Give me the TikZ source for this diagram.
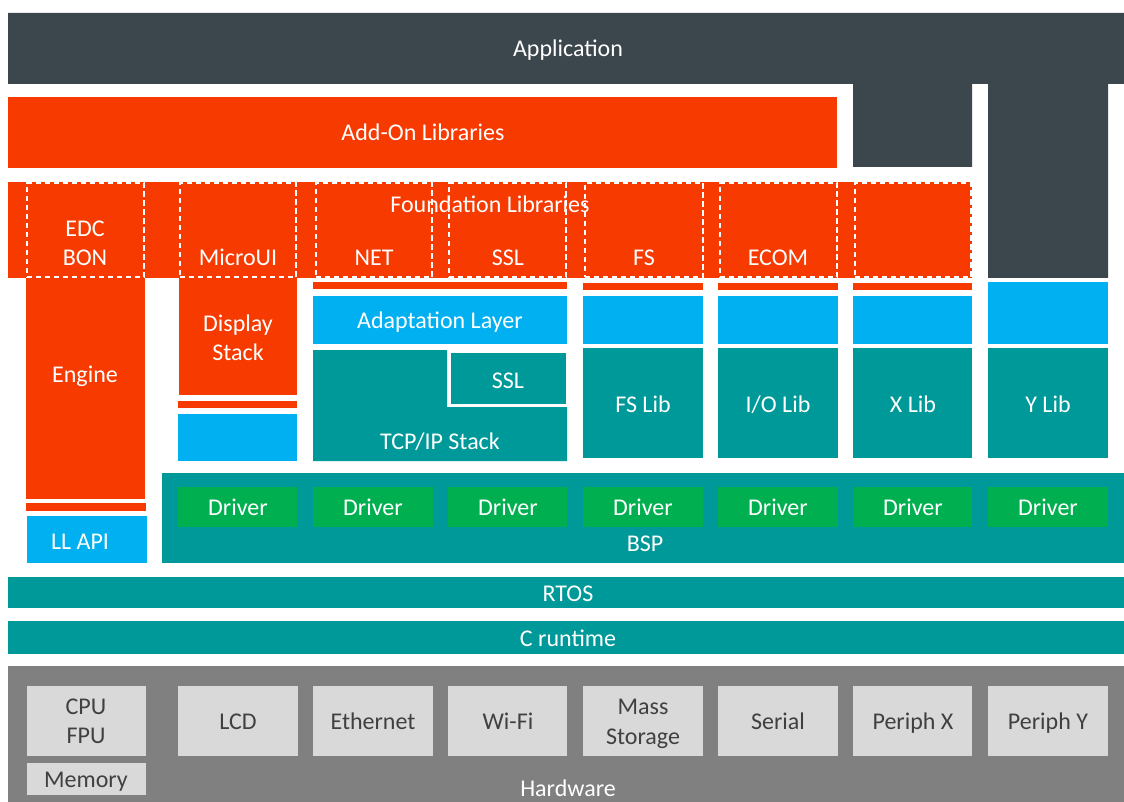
\documentclass[tikz,border=0pt]{standalone}
\usepackage{fontspec}
\setmainfont{Carlito}
\definecolor{appdark}{HTML}{3C464D}
\definecolor{libred}{HTML}{F63A00}
\definecolor{adaptblue}{HTML}{00B0F0}
\definecolor{stackteal}{HTML}{009999}
\definecolor{drvgreen}{HTML}{00B050}
\definecolor{hwgray}{HTML}{808080}
\definecolor{hwlight}{HTML}{D9D9D9}
\definecolor{hwtext}{HTML}{404040}
% block given by its pixel corners (x1,y1) and (x2,y2)
\newcommand\blk[6][]{\node[blkbase,#1,minimum width={(#5)-(#3)},minimum height={(#6)-(#4)}] (#2) at ({((#3)+(#5))/2},{((#4)+(#6))/2}) {};}
\begin{document}
\begin{tikzpicture}[x=1pt,y=-1pt,
  blkbase/.style={inner sep=0pt,outer sep=0pt,draw=none},
  red/.style={fill=libred},
  blue/.style={fill=adaptblue},
  teal/.style={fill=stackteal},
  green/.style={fill=drvgreen},
  light/.style={fill=hwlight},
  dashbox/.style={draw=white,line width=1.6pt,dash pattern=on 5.5pt off 3.5pt,fill=none},
  lbl/.style={inner sep=0pt,text height=15.5pt,text depth=0pt,text=white,font=\fontsize{24}{28}\selectfont},
  hwlbl/.style={lbl,text=hwtext}]
\useasboundingbox (0,0) rectangle (1124,802);
\fill[white] (0,0) rectangle (1124,802);

% Application layer with its two prongs
\fill[appdark] (8,13) -- (1124,13) -- (1124,84) -- (1108,84) -- (1108,278) -- (988,278)
  -- (988,84) -- (972,84) -- (972,167) -- (853,167) -- (853,84) -- (8,84) -- cycle;
\node[lbl] (tapp) at (568,49) {Application};

% Add-on libraries
\blk[red]{addon}{8}{97}{837}{168}
\node[lbl] (taddon) at (423,133) {Add-On Libraries};

% Foundation libraries band and columns below it
\blk[red]{found}{8}{182}{972}{278}
\blk[red]{engine}{26}{276}{145}{499}
\blk[red]{display}{179}{276}{297}{395}

% dashed library boxes
\blk[dashbox]{edc}{26.8}{182.8}{144.2}{277.2}
\blk[dashbox]{microui}{179.8}{182.8}{296.2}{277.2}
\blk[dashbox]{net}{315.8}{182.8}{432.2}{277.2}
\blk[dashbox]{ssl}{448.8}{182.8}{566.2}{277.2}
\blk[dashbox]{fs}{584.8}{182.8}{703.2}{277.2}
\blk[dashbox]{ecom}{719.8}{182.8}{837.2}{277.2}
\blk[dashbox]{xlibd}{854.8}{182.8}{971.2}{277.2}

\node[lbl] (tfound) at (490,205) {Foundation Libraries};
\node[lbl] (tedc) at (85,229) {EDC};
\node[lbl] (tbon) at (85,258) {BON};
\node[lbl] (tmicroui) at (238,258) {MicroUI};
\node[lbl] (tnet) at (374,258) {NET};
\node[lbl] (tssl) at (508,258) {SSL};
\node[lbl] (tfs) at (644,258) {FS};
\node[lbl] (tecom) at (778,258) {ECOM};

% engine column
\node[lbl] (tengine) at (85,375) {Engine};
\blk[red]{enginestrip}{26}{503}{146}{511}
\blk[blue]{llapi}{27}{516}{147}{563}
\node[lbl] (tllapi) at (80,542) {LL API};

% display stack column
\node[lbl] (tdisplay) at (238,324) {Display};
\node[lbl] (tstack) at (238,353) {Stack};
\blk[red]{dispstrip}{178}{401}{297}{408}
\blk[blue]{dispblue}{178}{414}{297}{461}

% network column
\blk[red]{netstrip}{313}{282}{567}{289}
\blk[blue]{adapt}{313}{296}{567}{344}
\node[lbl] (tadapt) at (440,321) {Adaptation Layer};
\fill[stackteal] (313,350) -- (447,350) -- (447,407) -- (567,407) -- (567,461) -- (313,461) -- cycle;
\blk[teal]{sslbox}{451}{353}{566}{404}
\node[lbl] (tsslin) at (508,381) {SSL};
\node[lbl] (ttcp) at (440,442) {TCP/IP Stack};

% remaining library columns
\blk[red]{fsstrip}{583}{283}{703}{290}
\blk[blue]{fsblue}{583}{296}{703}{344}
\blk[teal]{fslib}{583}{348}{703}{458}
\node[lbl] (tfslib) at (643,405) {FS Lib};
\blk[red]{iostrip}{718}{283}{838}{290}
\blk[blue]{ioblue}{718}{296}{838}{344}
\blk[teal]{iolib}{718}{348}{838}{458}
\node[lbl] (tiolib) at (778,405) {I/O Lib};
\blk[red]{xstrip}{853}{283}{972}{290}
\blk[blue]{xblue}{853}{296}{972}{344}
\blk[teal]{xlib}{853}{348}{972}{458}
\node[lbl] (txlib) at (913,405) {X Lib};
\blk[blue]{yblue}{988}{282}{1108}{344}
\blk[teal]{ylib}{988}{348}{1108}{458}
\node[lbl] (tylib) at (1048,405) {Y Lib};

% BSP with drivers
\blk[teal]{bsp}{162}{473}{1124}{563}
\node[lbl] (tbsp) at (645,544) {BSP};
\blk[green]{drva}{178}{487}{297}{527}
\blk[green]{drvb}{313}{487}{433}{527}
\blk[green]{drvc}{448}{487}{567}{527}
\blk[green]{drvd}{583}{487}{703}{527}
\blk[green]{drve}{718}{487}{838}{527}
\blk[green]{drvf}{853}{487}{972}{527}
\blk[green]{drvg}{988}{487}{1108}{527}
\foreach \n/\x in {a/238,b/373,c/508,d/643,e/778,f/913,g/1048}
  \node[lbl] (tdrv\n) at (\x,508) {Driver};

% RTOS and C runtime
\blk[teal]{rtos}{8}{577}{1124}{608}
\node[lbl] (trtos) at (568,594) {RTOS};
\blk[teal]{cruntime}{8}{621}{1124}{654}
\node[lbl] (tcrt) at (568,639) {C runtime};

% hardware
\blk[fill=hwgray]{hw}{8}{666}{1124}{802}
\blk[light]{cpu}{27}{686}{146}{756}
\blk[light]{mem}{27}{763}{146}{795}
\blk[light]{lcd}{178}{686}{298}{756}
\blk[light]{eth}{313}{686}{433}{756}
\blk[light]{wifi}{448}{686}{567}{756}
\blk[light]{mass}{583}{686}{703}{756}
\blk[light]{serial}{718}{686}{838}{756}
\blk[light]{perx}{853}{686}{972}{756}
\blk[light]{pery}{988}{686}{1108}{756}
\node[hwlbl] (tcpu) at (86,707) {CPU};
\node[hwlbl] (tfpu) at (86,736) {FPU};
\node[hwlbl] (tmem) at (86,780) {Memory};
\node[hwlbl] (tlcd) at (238,722) {LCD};
\node[hwlbl] (teth) at (373,722) {Ethernet};
\node[hwlbl] (twifi) at (508,722) {Wi-Fi};
\node[hwlbl] (tmass) at (643,707) {Mass};
\node[hwlbl] (tstor) at (643,737) {Storage};
\node[hwlbl] (tserial) at (778,722) {Serial};
\node[hwlbl] (tperx) at (913,722) {Periph X};
\node[hwlbl] (tpery) at (1048,722) {Periph Y};
\node[lbl] (thw) at (568,789) {Hardware};
\end{tikzpicture}
\end{document}
